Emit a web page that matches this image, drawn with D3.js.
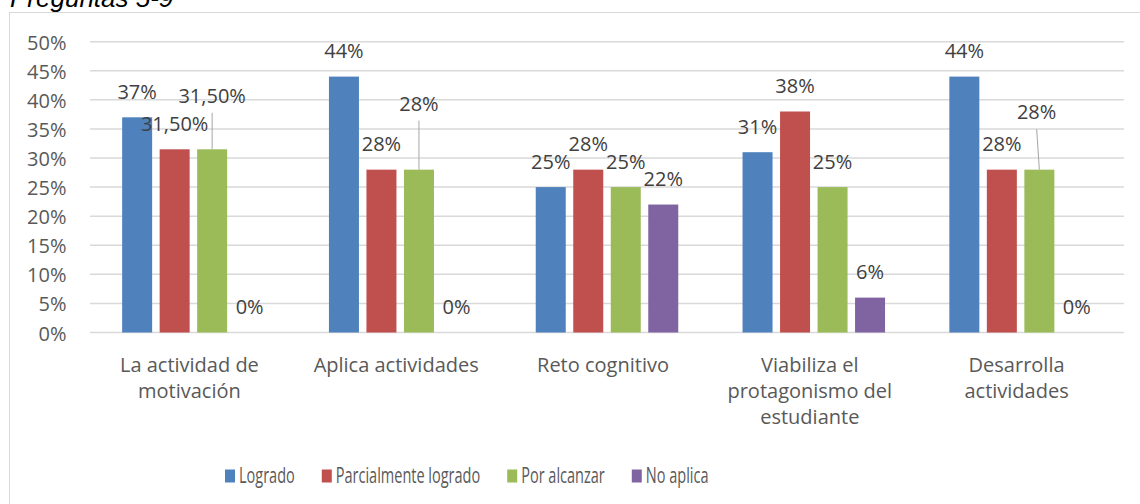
<!DOCTYPE html>
<html>
<head>
<meta charset="utf-8">
<script src="https://cdn.jsdelivr.net/npm/d3@7"></script>
<style>
  body { margin: 0; background: #fff; }
  svg { display: block; }
</style>
</head>
<body>
<script>
// data
var categories = [
  ["La actividad de", "motivación"],
  ["Aplica actividades"],
  ["Reto cognitivo"],
  ["Viabiliza el", "protagonismo del", "estudiante"],
  ["Desarrolla", "actividades"]
];
var seriesNames = ["Logrado", "Parcialmente logrado", "Por alcanzar", "No aplica"];
var logrado = [0.37, 0.44, 0.25, 0.31, 0.44];
var parcialmente = [0.315, 0.28, 0.28, 0.38, 0.28];
var porAlcanzar = [0.315, 0.28, 0.25, 0.25, 0.28];
var noAplica = [0, 0, 0.22, 0.06, 0];
var yTicks = [0, 0.05, 0.1, 0.15, 0.2, 0.25, 0.3, 0.35, 0.4, 0.45, 0.5];

var seriesValues = [logrado, parcialmente, porAlcanzar, noAplica];
var colors = ["#4F81BD", "#C0504D", "#9BBB59", "#8064A2"];

var width = 1140, height = 504;
var plot = {left: 90, right: 1124, top: 41.7, bottom: 332.5};

// labels that were dragged away from their bar (with a leader line)
var labelNudge = {
  "2-0": {dx: 0, dy: -28},
  "2-1": {dx: 0, dy: -40.5},
  "2-4": {dx: -2.7, dy: -32}
};

var svg = d3.select("body").append("svg")
  .attr("width", width)
  .attr("height", height);

// chart frame
svg.append("rect")
  .attr("x", 9.5).attr("y", 12.5)
  .attr("width", 1140).attr("height", 600)
  .attr("fill", "none")
  .attr("stroke", "#d9d9d9");

// title, mostly cut off at the top (as in the original)
svg.append("text")
  .attr("x", 10).attr("y", 7)
  .style("font-family", "'Liberation Sans', Arial, sans-serif")
  .style("font-style", "italic")
  .style("font-size", "26px")
  .style("fill", "#000")
  .text("Preguntas 5-9");

var x = d3.scaleBand()
  .domain(d3.range(categories.length))
  .range([plot.left, plot.right]);

var xSub = d3.scaleBand()
  .domain(d3.range(seriesNames.length))
  .range([0, x.bandwidth()])
  .paddingInner(0.2)
  .paddingOuter(0.857);

var y = d3.scaleLinear()
  .domain([0, 0.5])
  .range([plot.bottom, plot.top]);

// gridlines
svg.append("g")
  .selectAll("line")
  .data(yTicks)
  .join("line")
  .attr("x1", plot.left).attr("x2", plot.right)
  .attr("y1", function(d) { return y(d); })
  .attr("y2", function(d) { return y(d); })
  .attr("stroke", "#d9d9d9")
  .attr("stroke-width", 1.5);

// y axis labels
var yAxis = d3.axisLeft(y)
  .tickValues(yTicks)
  .tickFormat(d3.format(".0%"))
  .tickSize(0)
  .tickPadding(0);

var yAxisG = svg.append("g")
  .attr("transform", "translate(66.5,0)")
  .call(yAxis);
yAxisG.select(".domain").remove();
yAxisG.selectAll("text")
  .attr("dy", "7.5")
  .style("font-family", "'Open Sans', sans-serif")
  .style("font-size", "20px")
  .style("fill", "#595959");

// bars
var bars = [];
seriesValues.forEach(function(vals, s) {
  vals.forEach(function(v, c) {
    bars.push({s: s, c: c, v: v});
  });
});

svg.append("g")
  .selectAll("rect")
  .data(bars)
  .join("rect")
  .attr("x", function(d) { return x(d.c) + xSub(d.s); })
  .attr("y", function(d) { return y(d.v); })
  .attr("width", xSub.bandwidth())
  .attr("height", function(d) { return y(0) - y(d.v); })
  .attr("fill", function(d) { return colors[d.s]; });

// value labels
function fmt(v) {
  var p = Math.round(v * 10000) / 100;
  if (Math.round(p) === p) return p + "%";
  return p.toFixed(2).replace(".", ",") + "%";
}

var labels = svg.append("g");
bars.forEach(function(d) {
  var cx = x(d.c) + xSub(d.s) + xSub.bandwidth() / 2;
  var top = y(d.v);
  var n = labelNudge[d.s + "-" + d.c] || {dx: 0, dy: 0};
  var lx = cx + n.dx, ly = top - 18.5 + n.dy;
  if (n.dy !== 0) {
    labels.append("line")
      .attr("x1", lx).attr("y1", ly + 10)
      .attr("x2", cx).attr("y2", top)
      .attr("stroke", "#a6a6a6")
      .attr("stroke-width", 1);
  }
  labels.append("text")
    .attr("x", lx).attr("y", ly)
    .attr("text-anchor", "middle")
    .style("font-family", "'Open Sans', sans-serif")
    .style("font-size", "20px")
    .style("fill", "#404040")
    .text(fmt(d.v));
});

// category labels
var catG = svg.append("g");
categories.forEach(function(lines, c) {
  var t = catG.append("text")
    .attr("text-anchor", "middle")
    .style("font-family", "'Open Sans', sans-serif")
    .style("font-size", "20px")
    .style("fill", "#595959");
  lines.forEach(function(line, i) {
    t.append("tspan")
      .attr("x", x(c) + x.bandwidth() / 2 - 4)
      .attr("y", 371.5 + i * 26)
      .text(line);
  });
});

// legend (text is narrow and tall in the original)
var legend = svg.append("g");
var lx = 225;
seriesNames.forEach(function(name, i) {
  legend.append("rect")
    .attr("x", lx).attr("y", 469.5)
    .attr("width", 10).attr("height", 13)
    .attr("fill", colors[i]);
  var t = legend.append("text")
    .attr("transform", "translate(" + (lx + 14) + ",482.5) scale(0.645,1)")
    .style("font-family", "'Open Sans', sans-serif")
    .style("font-size", "22.5px")
    .style("fill", "#595959")
    .text(name);
  lx = lx + 14 + t.node().getComputedTextLength() * 0.645 + 27;
});
</script>
</body>
</html>
